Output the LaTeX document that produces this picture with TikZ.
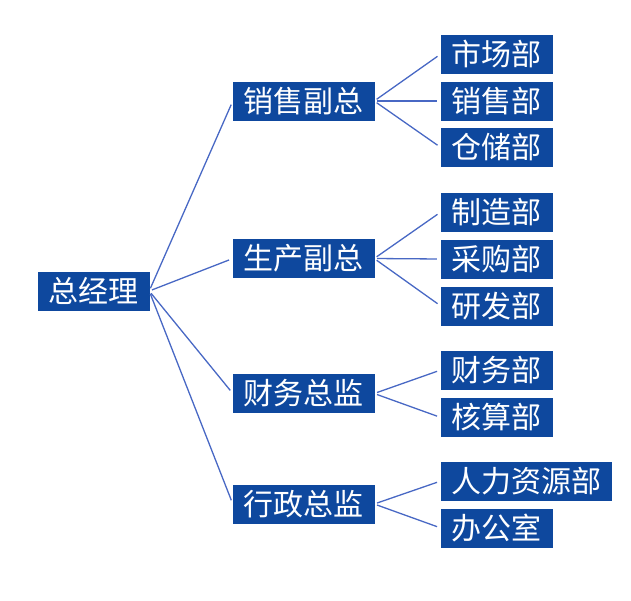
\documentclass[tikz,border=0pt]{standalone}
\usepackage{fontspec}
\setmainfont{Noto Sans CJK SC}
\usepackage{tikz}
\definecolor{myboxblue}{RGB}{14,72,158}
\definecolor{mylineblue}{RGB}{72,104,196}
\tikzstyle{unit}=[draw=myboxblue,fill=myboxblue,text=white,rectangle,minimum height=38pt,inner sep=0pt,font=\fontsize{30}{31}\selectfont]
\begin{document}
\begin{tikzpicture}[
  x=1pt,y=-1pt,
  link/.style={mylineblue,line width=1.3pt,shorten <=3pt,shorten >=4pt},
  boss/.style={unit,minimum width=111pt},
  chief/.style={unit,minimum width=141pt},
  dept/.style={unit,minimum width=111pt}
]
\useasboundingbox (0,0) rectangle (631,600);

\node [boss] (gm) at (93.5,291) {总经理};

\node [chief] (xs) at (303.5,101) {销售副总};
\node [chief] (sc) at (303.5,258.5) {生产副总};
\node [chief] (cw) at (303.5,393.5) {财务总监};
\node [chief] (xz) at (303.5,504) {行政总监};

\node [dept] (scb) at (496.5,54) {市场部};
\node [dept] (xsb) at (496.5,101) {销售部};
\node [dept] (ccb) at (496.5,147.5) {仓储部};
\node [dept] (zzb) at (496.5,212) {制造部};
\node [dept] (cgb) at (496.5,259) {采购部};
\node [dept] (yfb) at (496.5,306) {研发部};
\node [dept] (cwb) at (496.5,370) {财务部};
\node [dept] (hsb) at (496.5,417.5) {核算部};
\node [dept,minimum width=170pt] (rlb) at (526,481) {人力资源部};
\node [dept] (bgs) at (496.5,528) {办公室};

\foreach \Chief in {xs,sc,cw,xz}
  \draw [link] (gm.east) -- (\Chief.west);
\foreach \Dept in {scb,xsb,ccb}
  \draw [link] (xs.east) -- (\Dept.west);
\foreach \Dept in {zzb,cgb,yfb}
  \draw [link] (sc.east) -- (\Dept.west);
\foreach \Dept in {cwb,hsb}
  \draw [link] (cw.east) -- (\Dept.west);
\foreach \Dept in {rlb,bgs}
  \draw [link] (xz.east) -- (\Dept.west);

\end{tikzpicture}
\end{document}
